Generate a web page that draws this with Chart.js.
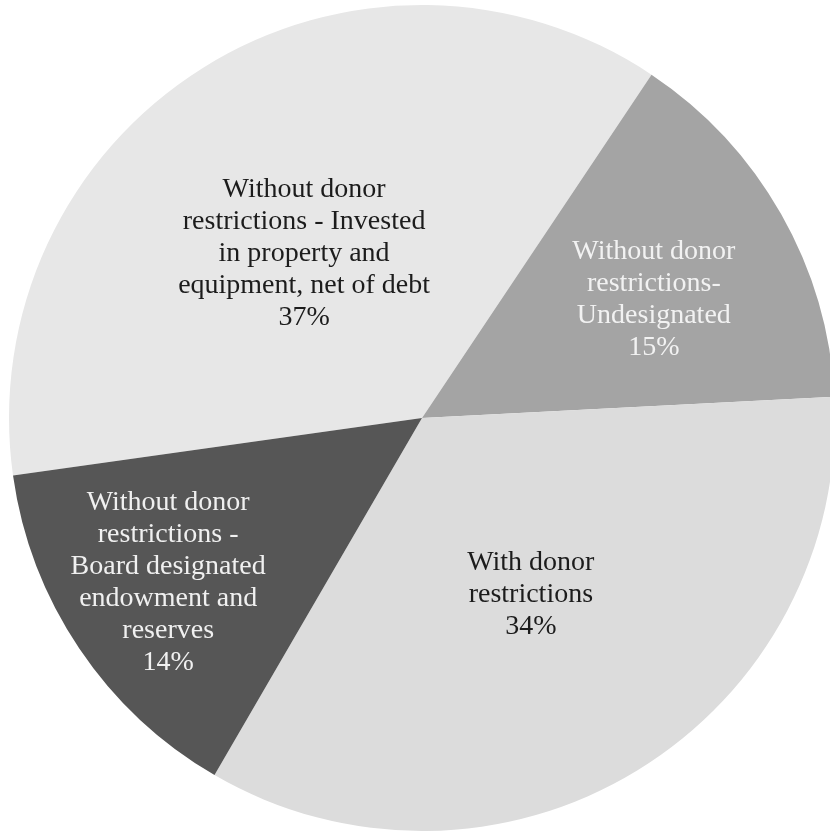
<!DOCTYPE html>
<html>
<head>
<meta charset="utf-8">
<script src="https://cdn.jsdelivr.net/npm/chart.js@4.4.1/dist/chart.umd.min.js"></script>
<style>
  html, body { margin: 0; padding: 0; background: #ffffff; overflow: hidden; width: 830px; height: 831px; }
  #wrap { position: absolute; left: 0; top: 0; width: 840px; height: 840px; }
</style>
</head>
<body>
<div id="wrap"><canvas id="c"></canvas></div>
<script>
// ---- data ----
const categories = [
  "Without donor restrictions - Invested in property and equipment, net of debt",
  "Without donor restrictions-Undesignated",
  "With donor restrictions",
  "Without donor restrictions - Board designated endowment and reserves"
];
// slice shares (printed labels: 37%, 15%, 34%, 14%)
const values = [36.6, 14.8, 34.2, 14.4];
const labelLines = [
  ["Without donor", "restrictions - Invested", "in property and", "equipment, net of debt", "37%"],
  ["Without donor", "restrictions-", "Undesignated", "15%"],
  ["With donor", "restrictions", "34%"],
  ["Without donor", "restrictions -", "Board designated", "endowment and", "reserves", "14%"]
];

// ---- styles ----
const sliceColors = ["#e7e7e7", "#a4a4a4", "#dcdcdc", "#565656"];
const textColors = ["#1c1c1c", "#f2f2f2", "#1c1c1c", "#f0f0f0"];
const labelRadiusFrac = [0.489, 0.63, 0.503, 0.733];
const labelAngleOffsetDeg = [-3.6, 2.6, -0.2, 0.9];

const sliceLabels = {
  id: 'sliceLabels',
  afterDatasetsDraw(chart) {
    const ctx = chart.ctx;
    const meta = chart.getDatasetMeta(0);
    ctx.save();
    ctx.font = '28px "Liberation Serif", "Times New Roman", serif';
    ctx.textAlign = 'center';
    ctx.textBaseline = 'middle';
    const lh = 32;
    meta.data.forEach((arc, i) => {
      const p = arc.getProps(['x', 'y', 'startAngle', 'endAngle', 'outerRadius'], true);
      const mid = (p.startAngle + p.endAngle) / 2 + labelAngleOffsetDeg[i] * Math.PI / 180;
      const r = p.outerRadius * labelRadiusFrac[i];
      const cx = p.x + Math.cos(mid) * r;
      const cy = p.y + Math.sin(mid) * r;
      const lines = labelLines[i];
      const y0 = cy - (lines.length - 1) * lh / 2;
      ctx.fillStyle = textColors[i];
      lines.forEach((t, k) => ctx.fillText(t, cx, y0 + k * lh));
    });
    ctx.restore();
  }
};

new Chart(document.getElementById('c'), {
  type: 'pie',
  data: {
    labels: categories,
    datasets: [{
      data: values,
      backgroundColor: sliceColors,
      borderWidth: 0
    }]
  },
  options: {
    responsive: true,
    maintainAspectRatio: false,
    animation: false,
    rotation: -98,
    layout: { padding: { left: 9, right: 5, top: 5, bottom: 9 } },
    plugins: {
      legend: { display: false },
      tooltip: { enabled: false }
    }
  },
  plugins: [sliceLabels]
});
</script>
</body>
</html>
